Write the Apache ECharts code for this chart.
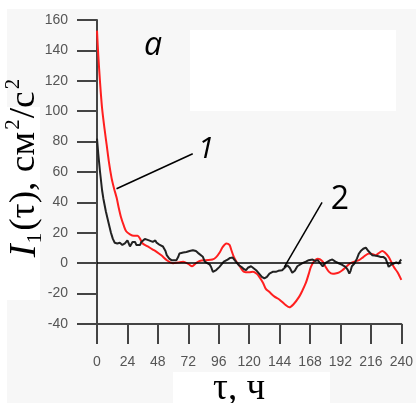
<!DOCTYPE html>
<html>
<head>
<meta charset="utf-8">
<script src="https://cdn.jsdelivr.net/npm/echarts@6/dist/echarts.min.js"></script>
<style>
html,body{margin:0;padding:0;background:#f7f7f7;}
#chart{width:416px;height:403px;}
</style>
</head>
<body>
<div id="chart"></div>
<script>
// x ticks (hours) and y ticks
const xTicks = [0, 24, 48, 72, 96, 120, 144, 168, 192, 216, 240];
const yTicks = [-40, -20, 0, 20, 40, 60, 80, 100, 120, 140, 160];

// curve 1 (red): [tau, I1]
const curve1 = [
  [0,153],[1,137],[2.4,119],[4,102],[6,88],[7.6,78],[9.5,66],[11.5,56],[13.5,49],[15.5,43],[17,37],[19,30],[21,25],[23,21],
  [26,19],[29,18],[32,18],[34,16],[36,13],[40,11],[44,9],[47,7.5],[51,5],[55,2],[60,0],[64,0.5],[68,1],[72,-0.5],[75,-2],
  [78,0],[81,1.5],[86,2],[91,2.4],[94,4],[97,7.4],[99,10.5],[102,13],[104.5,12],[106,8.5],[108,4],[110,1],[112,-1.3],
  [116,-5.7],[120,-6],[123,-5.7],[126,-7],[128,-9],[131,-13],[133,-16.7],[136,-19],[140,-22],[144,-24],[148,-27],
  [151.6,-29],[155,-27],[159.5,-22],[162,-18],[164.7,-13],[167,-7],[168.7,-2.4],[171,1],[174,3],[176,2.5],[178,1],
  [180,-2],[183,-5.7],[186,-7],[188,-6.8],[191,-6],[193.5,-4.6],[197,-2],[200,0],[203,1],[206.6,2],[210,4],[214.5,6.4],
  [217,6],[219.7,5.3],[222,6.5],[225,8],[227,7],[230,4.2],[232,1],[234,-2.4],[237,-6],[240,-11]
];

// curve 2 (black): [tau, I1]
const curve2 = [
  [0,82],[1,72],[2.4,60],[4,48],[5,42.6],[7,34],[9,27],[11,20],[12.5,16],[14,13.5],[16,13],[18,13.4],[20,12],[22,13],
  [24,15],[25,13],[26,11],[27,12],[28,14],[29.5,13],[30,14],[31,12],[32,11],[34,12],[35,14],[36,15],[37.7,16],[39,17],
  [41,15],[42,15.5],[44,14],[46,15],[47,13.5],[49.5,12],[52,11],[54,8],[55,5.3],[57,3],[58.7,2],[60,1],[61,2],[62.6,2],
  [64,4],[65,6.4],[66.5,6.8],[68,7],[70.5,7.4],[72,8],[73,8],[74,7.5],[75.6,8.5],[77,8],[78,8],[79.6,6.8],[81,6],
  [83.5,4.2],[85,1],[87,0],[89,-1],[90,-2.5],[91.4,-5.7],[92.7,-5.7],[94,-4.5],[96.6,-2.4],[98,-1.3],[100,1],[103,2.4],
  [105,3.5],[107,3.7],[108,2.4],[110,0.5],[112,-1.5],[114,-2.5],[116,-4],[117.6,-4.6],[119,-3],[121.5,-2],[123,-2.5],
  [125.5,-4.6],[128,-7],[130,-9],[132,-10],[134,-9],[136,-6.8],[138.5,-5.7],[141,-5.7],[143,-5],[146,-4.6],[148,-3],
  [150,-1.3],[152,-3],[154,-6.3],[156,-5],[158,-2],[159.5,-1.3],[162,0],[164.7,1],[167,2],[170,2.4],[172,1.5],[174,2],
  [176,0],[178,-2],[180,0],[182,1],[184,2],[185.6,2.4],[188,1],[191,-0.2],[193,-1],[196,-2.4],[197.5,-4],[199,-6.8],
  [200,-5],[201,-2],[203,-0.2],[205,3],[206.6,6.4],[208,8],[210,9.5],[212,10.3],[214,8],[217,5.3],[219,5],[222,4.6],
  [224,4],[226,4],[227.6,3],[229,0],[230,-2.4],[231,-3],[232,-1],[234,-0.2],[236,0.5],[238,-0.2],[239,1.5],[240,2.4]
];

// leader lines for the curve labels, in data coordinates
const leader1 = [[15.4, 49], [75.5, 72]];
const leader2 = [[147.7, -2.6], [177.5, 40]];
const zeroLevel = 0;

const chart = echarts.init(document.getElementById('chart'));
const axisCol = '#444';
chart.setOption({
  backgroundColor: '#f7f7f7',
  animation: false,
  grid: {left: 97, right: 13.4, top: 20, bottom: 79},
  xAxis: {
    type: 'value', min: xTicks[0], max: xTicks[xTicks.length - 1], interval: 24,
    axisLine: {show: true, onZero: false, lineStyle: {color: axisCol, width: 2}},
    axisTick: {show: true, length: 20, lineStyle: {color: axisCol, width: 2}},
    splitLine: {show: false},
    axisLabel: {margin: 31, color: '#555', fontSize: 14, fontFamily: 'Liberation Sans'}
  },
  yAxis: {
    type: 'value', min: yTicks[0], max: yTicks[yTicks.length - 1], interval: 20,
    axisLine: {show: true, lineStyle: {color: axisCol, width: 2}},
    axisTick: {show: true, length: 20, lineStyle: {color: axisCol, width: 2}},
    splitLine: {show: false},
    axisLabel: {margin: 29, color: '#555', fontSize: 14, fontFamily: 'Liberation Sans'}
  },
  graphic: [
    {type: 'rect', z: -10, shape: {x: 0, y: 0, width: 416, height: 9}, style: {fill: '#fff'}},
    {type: 'rect', z: -10, shape: {x: 0, y: 0, width: 7, height: 403}, style: {fill: '#fff'}},
    {type: 'rect', z: -10, shape: {x: 0, y: 107, width: 40, height: 193}, style: {fill: '#fff'}},
    {type: 'rect', z: -10, shape: {x: 190, y: 30, width: 206, height: 81}, style: {fill: '#fff'}},
    {type: 'rect', z: -10, shape: {x: 173, y: 372, width: 157, height: 31}, style: {fill: '#fff'}},
    {
      type: 'text', x: 25, y: 167.5, rotation: Math.PI / 2, scaleX: 1.04, z: 10,
      style: {
        text: '{i|I}{sub|1}{n|(τ), см}{sup|2}{n|/с}{sup|2}',
        textAlign: 'center', textVerticalAlign: 'middle',
        rich: {
          i: {fontFamily: 'Liberation Serif', fontStyle: 'italic', fontSize: 37, lineHeight: 42, fill: '#000', verticalAlign: 'middle'},
          n: {fontFamily: 'Liberation Serif', fontSize: 36, lineHeight: 42, fill: '#000', verticalAlign: 'middle'},
          sub: {fontFamily: 'Liberation Serif', fontSize: 20, lineHeight: 21, fill: '#000', verticalAlign: 'bottom', padding: [0, 2, 0, 1]},
          sup: {fontFamily: 'Liberation Serif', fontSize: 20, lineHeight: 21, fill: '#000', verticalAlign: 'top', padding: [0, 1, 0, 2]}
        }
      }
    },
    {type: 'text', x: 239, y: 389, z: 10, style: {text: 'τ, ч', fontFamily: 'Liberation Serif', fontSize: 37, fill: '#000', textAlign: 'center', textVerticalAlign: 'middle'}},
    {type: 'text', x: 153, y: 46, z: 10, style: {text: 'а', fontFamily: 'Open Sans', fontStyle: 'italic', fontSize: 32, fill: '#000', textAlign: 'center', textVerticalAlign: 'middle'}},
    {type: 'text', x: 206, y: 149, z: 10, style: {text: '1', fontFamily: 'Open Sans', fontStyle: 'italic', fontSize: 30, fill: '#000', textAlign: 'center', textVerticalAlign: 'middle'}},
    {type: 'text', x: 340, y: 200, z: 10, style: {text: '2', fontFamily: 'Open Sans', fontSize: 32, fill: '#000', textAlign: 'center', textVerticalAlign: 'middle'}}
  ],
  series: [
    {
      type: 'line', data: curve1, showSymbol: false, smooth: 0.3, z: 3,
      lineStyle: {color: '#ff1f1f', width: 2}
    },
    {
      type: 'line', data: curve2, showSymbol: false, z: 4,
      lineStyle: {color: '#222', width: 2},
      markLine: {
        silent: true, symbol: ['none', 'none'], animation: false,
        label: {show: false},
        lineStyle: {color: '#000', width: 1.5, type: 'solid'},
        data: [
          {yAxis: zeroLevel},
          [{coord: leader1[0]}, {coord: leader1[1]}],
          [{coord: leader2[0]}, {coord: leader2[1]}]
        ]
      }
    }
  ]
});
</script>
</body>
</html>
